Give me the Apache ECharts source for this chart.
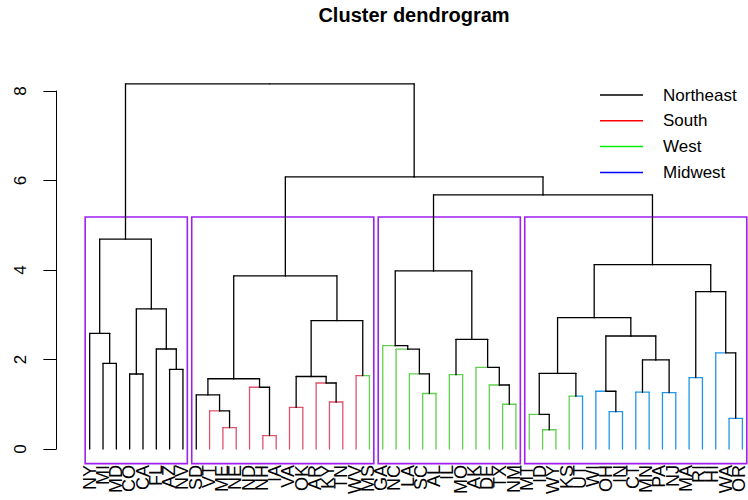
<!DOCTYPE html>
<html>
<head>
<meta charset="utf-8">
<script src="https://cdn.jsdelivr.net/npm/echarts@6/dist/echarts.min.js"></script>
<style>html,body{margin:0;padding:0;background:#fff;}#c{width:748px;height:500px;}</style>
</head>
<body>
<div id="c"></div>
<script>
// ---- data ----
const leafLabels = ['NY','MI','MD','CO','CA','FL','AZ','NV',
  'SD','VT','ME','NE','ND','NH','IA','VA','OK','AR','KY','TN','WV','MS',
  'GA','NC','LA','SC','AL','IL','MO','AK','DE','TX','NM',
  'MT','ID','WY','KS','UT','WI','OH','IN','CT','MN','PA','NJ','MA','RI','HI','WA','OR'];
// leaf colour group (0 Northeast, 1 South, 2 West, 3 Midwest)
const leafGroup = [0,0,0,0,0,0,0,0,
  0,1,1,1,1,1,1,1,1,1,1,1,1,2,
  2,2,2,2,2,2,2,2,2,2,2,
  2,2,2,2,3,3,3,3,3,3,3,3,3,3,3,3,3];
const groupNames = ['Northeast','South','West','Midwest'];
// merges: negative = leaf (1-based, display order), positive = earlier merge (1-based)
const merges = [
  [-2,-3],[-1,1],[-4,-5],[-7,-8],[-6,4],[3,5],[2,6],
  [-11,-12],[-10,8],[-9,9],[-14,-15],[-13,11],[10,12],[-16,-17],[-19,-20],[-18,15],[14,16],[-21,-22],[17,18],[13,19],
  [-26,-27],[-25,21],[-24,22],[-23,23],[-28,-29],[-32,-33],[-31,26],[-30,27],[25,28],[24,29],
  [-35,-36],[-34,31],[-37,-38],[32,33],[-40,-41],[-39,35],[-42,-43],[-44,-45],[37,38],[36,39],[34,40],[-46,-47],[-49,-50],[-48,43],[42,44],[41,45],
  [30,46],[20,47],[7,48]
];
const mergeHeights = [
  1.915,2.585,1.676,1.78,2.235,3.13,4.69,
  0.476,0.85,1.21,0.30,1.38,1.57,0.93,1.05,1.475,1.62,1.64,2.87,3.87,
  1.24,1.68,2.23,2.31,1.66,1.0,1.43,1.825,2.45,3.98,
  0.43,0.775,1.18,1.69,0.835,1.29,1.27,1.26,1.99,2.525,2.935,1.595,0.685,2.15,3.515,4.12,
  5.68,6.08,8.16
];
const kClusters = 4;

// ---- styles ----
const leafPalette = ['#000000','#DF536B','#61D04F','#2297E6'];
const legendColors = ['#000000','#ff0000','#00ee00','#0000ff'];
const FONT = 'Liberation Sans, Arial, Helvetica, sans-serif';

// ---- build segments ----
const nodeX = [], nodeH = [];
const segs = [];
function ref(r){ return r < 0 ? {x:-r, h:0, leaf:-r} : {x:nodeX[r-1], h:nodeH[r-1], leaf:0}; }
merges.forEach((m,i)=>{
  const a = ref(m[0]), b = ref(m[1]);
  const x = (a.x + b.x)/2, h = mergeHeights[i];
  nodeX.push(x); nodeH.push(h);
  [a,b].forEach(c=>{
    const col = c.leaf ? leafGroup[c.leaf-1] : 0;
    segs.push([x, h, c.x, h, col]);
    segs.push([c.x, h, c.x, c.h, col]);
  });
});
// ---- cluster rectangles (rect.hclust style) ----
const sortedH = mergeHeights.slice().sort((p,q)=>q-p);
const cutH = (sortedH[kClusters-2] + sortedH[kClusters-1]) / 2;
const maxH = sortedH[0];
const rectBottom = -0.04 * maxH;
function leafRange(r){
  if (r < 0) return [-r,-r];
  const m = merges[r-1]; const A = leafRange(m[0]), B = leafRange(m[1]);
  return [Math.min(A[0],B[0]), Math.max(A[1],B[1])];
}
const rects = [];
function collect(r){
  if (r > 0 && mergeHeights[r-1] > cutH){ collect(merges[r-1][0]); collect(merges[r-1][1]); }
  else { const lr = leafRange(r); rects.push([lr[0]-0.34, lr[1]+0.33, cutH, rectBottom]); }
}
collect(merges.length);

const unit = 13.32;           // px per leaf
const xMax = 50.4;
const chart = echarts.init(document.getElementById('c'), null, {renderer:'svg'});
chart.setOption({
  animation: false,
  textStyle: {fontFamily: FONT},
  title: {text:'Cluster dendrogram', left:414, top:5, padding:0, textAlign:'center',
    textStyle:{fontSize:20, fontWeight:'bold', color:'#000', fontFamily:FONT}},
  legend: {
    orient:'vertical', left:600, top:85, padding:0, itemWidth:43, itemHeight:1.5, itemGap:5.8, icon:'rect',
    textStyle:{fontSize:17, color:'#000', lineHeight:20, padding:[0,0,0,15], fontFamily:FONT},
    data: groupNames
  },
  grid: [
    {left:56.4, width:(xMax+1.5)*unit, top:91, height:358},
    {left:56.4+1.5*unit, width:xMax*unit, top:91, height:358}
  ],
  xAxis: [
    {gridIndex:0, type:'value', min:-1.5, max:xMax, show:false},
    {gridIndex:1, type:'value', min:0, max:xMax, interval:1,
      axisLine:{show:false}, axisTick:{show:false}, splitLine:{show:false},
      axisLabel:{rotate:90, margin:16, fontSize:18, color:'#000', fontFamily:FONT,
        showMaxLabel:false, formatter: v => leafLabels[v-1] || ''}}
  ],
  yAxis: [
    {gridIndex:0, type:'value', min:0, max:8, interval:2,
      axisLine:{show:true, onZero:false, lineStyle:{color:'#000', width:1}},
      axisTick:{show:true, inside:false, length:13, lineStyle:{color:'#000'}},
      splitLine:{show:false},
      axisLabel:{rotate:90, margin:27, fontSize:17, color:'#000', fontFamily:FONT}},
    {gridIndex:1, type:'value', min:0, max:8, show:false}
  ],
  series: [
    {type:'custom', xAxisIndex:0, yAxisIndex:0, silent:true, clip:false, data: rects,
      renderItem:(p, api)=>{
        const a = api.coord([api.value(0), api.value(2)]);
        const b = api.coord([api.value(1), api.value(3)]);
        return {type:'rect', shape:{x:a[0], y:a[1], width:b[0]-a[0], height:b[1]-a[1]},
          style:{fill:'none', stroke:'#A020F0', lineWidth:1.6}};
      }},
    {type:'custom', xAxisIndex:0, yAxisIndex:0, silent:true, clip:false, data: segs,
      renderItem:(p, api)=>{
        const a = api.coord([api.value(0), api.value(1)]);
        const b = api.coord([api.value(2), api.value(3)]);
        return {type:'line', shape:{x1:a[0], y1:a[1], x2:b[0], y2:b[1]},
          style:{stroke: leafPalette[api.value(4)], lineWidth:1.3, lineCap:'round'}};
      }},
    ...groupNames.map((n,i)=>({type:'line', name:n, data:[], symbol:'none', xAxisIndex:1, yAxisIndex:1,
      itemStyle:{color:legendColors[i]}, lineStyle:{color:legendColors[i]}}))
  ]
});
</script>
</body>
</html>
